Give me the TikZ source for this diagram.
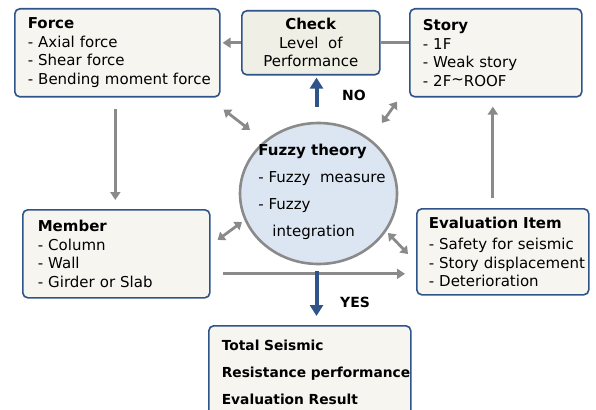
\documentclass[tikz,border=0pt]{standalone}
\usepackage{fontspec}
\setmainfont{DejaVu Sans}
\usetikzlibrary{positioning,calc,arrows.meta,shapes.geometric}

\definecolor{boxblue}{RGB}{46,84,138}
\definecolor{boxfill}{RGB}{246,245,240}
\definecolor{checkfill}{RGB}{239,239,229}
\definecolor{fuzzyfill}{RGB}{220,230,242}
\definecolor{linegray}{RGB}{138,138,138}

\begin{document}
\begin{tikzpicture}[x=1pt, y=-1pt,
	box/.style={draw=boxblue, line width=1.6pt, fill=boxfill, rounded corners=5pt, align=left, anchor=north west, inner ysep=0pt, font=\fontsize{15}{18.5}\selectfont},
	gline/.style={draw=linegray, line width=2.8pt},
	garrow/.style={gline, -{Triangle[width=10pt,length=8pt]}},
	darrow/.style={gline, {Triangle[width=10pt,length=7pt]}-{Triangle[width=10pt,length=7pt]}},
	barrow/.style={draw=boxblue, line width=4pt, -{Triangle[width=13pt,length=11pt]}},
	lbl/.style={font=\fontsize{14}{16}\selectfont\bfseries, anchor=base west, inner sep=0pt}]
	\useasboundingbox (0,0) rectangle (596,409);
	\begin{scope}
		\node[box, inner xsep=13pt, text width=179pt, minimum height=88pt] (force) at (14, 8) {\textbf{Force}\\- Axial force\\- Shear force\\\mbox{- Bending moment force}};
		\node[box, fill=checkfill, align=center, minimum width=138pt, minimum height=64pt] (check) at (241, 10) {\textbf{Check}\\Level\ \ of\\Performance};
		\node[box, inner xsep=13pt, text width=146pt, minimum height=88pt] (story) at (409, 8) {\textbf{Story}\\- 1F\\- Weak story\\- 2F\raisebox{0.2ex}{\textasciitilde}ROOF};

		\node[box, inner xsep=15pt, text width=157pt, minimum height=88pt] (member) at (22, 209) {\textbf{Member}\\- Column\\- Wall\\- Girder or Slab};
		\node[box, inner xsep=12pt, text width=148pt, minimum height=86pt] (eval) at (416, 208) {\textbf{Evaluation Item}\\[3pt]- Safety for seismic\\\mbox{- Story displacement}\\- Deterioration};

		\node[ellipse, draw=linegray, line width=2.6pt, fill=fuzzyfill, minimum width=157pt, minimum height=141pt] (fuzzy) at (318.5, 193.5) {};
		\node[align=left, inner sep=0pt, font=\fontsize{15}{27}\selectfont] (fuzzytxt) at (322, 191.5) {\textbf{Fuzzy theory}\\- Fuzzy\ \ measure\\- Fuzzy\\\hspace{14pt}integration};

		\node[box, inner xsep=13pt, inner ysep=14.5pt, text width=176pt, font=\fontsize{13.8}{27}\selectfont\bfseries] (total) at (208, 325) {Total Seismic\\\mbox{Resistance performance}\\Evaluation Result};

		\node[lbl] (no) at (342, 100) {NO};
		\node[lbl] (yes) at (340, 307) {YES};

		\coordinate (low) at ($(member.east)+(0,20)$);

		\draw [garrow, shorten >=2pt] (check.west) to (check.west -| force.east);
		\draw [gline] (story.west |- check.east) to (check.east);
		\draw [garrow, shorten <=11pt, shorten >=9pt] ([xshift=-2pt]force.south) to ([xshift=-2pt]force.south |- member.north);
		\draw [garrow, shorten <=12pt, shorten >=11pt] (low) to (low -| eval.west);
		\draw [garrow, shorten <=10pt, shorten >=9pt] ([xshift=-3pt]story.south |- eval.north) to ([xshift=-3pt]story.south);

		\draw [darrow] ($(force.south east)+(3,12)$) to ($(fuzzy.center)+(-68.5,-63.5)$);
		\draw [darrow] ($(story.south west)+(-12,4)$) to ($(fuzzy.center)+(63.5,-70.5)$);
		\draw [darrow] ($(member.north east)+(7,31)$) to ($(fuzzy.center)+(-76.5,28.5)$);
		\draw [darrow] ($(eval.north west)+(-8,46)$) to ($(fuzzy.center)+(69.5,39.5)$);

		\draw [barrow, shorten <=15pt, shorten >=2pt] ([xshift=-2pt]fuzzy.north) to ([xshift=-2pt]fuzzy.north |- check.south);
		\draw [barrow, shorten <=6pt, shorten >=9pt] ([xshift=-2pt]fuzzy.south) to ([xshift=-2pt]fuzzy.south |- total.north);
	\end{scope}
\end{tikzpicture}
\end{document}
